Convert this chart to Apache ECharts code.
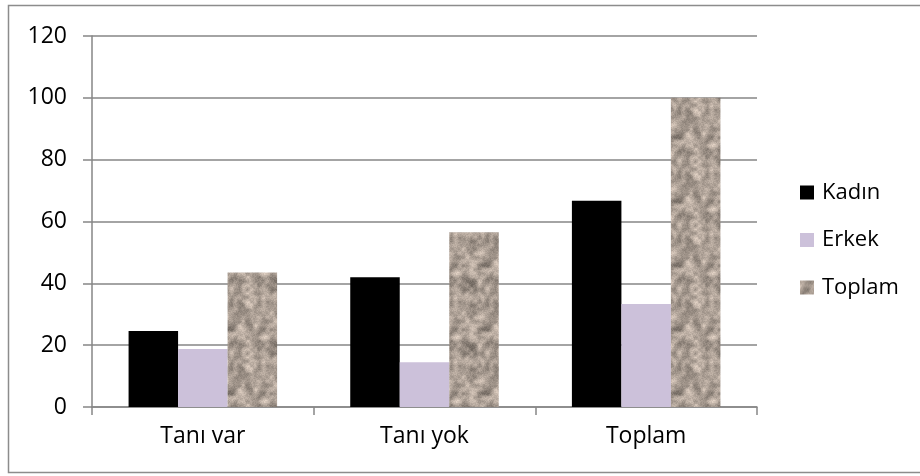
<!DOCTYPE html>
<html>
<head>
<meta charset="utf-8">
<script src="https://cdn.jsdelivr.net/npm/echarts@6/dist/echarts.min.js"></script>
<style>
  html, body { margin: 0; padding: 0; background: #fff; }
  #chart { width: 920px; height: 476px; }
</style>
</head>
<body>
<div id="chart"></div>
<script>
// Categories and series values
const categories = ['Tanı var', 'Tanı yok', 'Toplam'];
const kadin = [24.6, 42.0, 66.7];
const erkek = [18.8, 14.5, 33.3];
const toplam = [43.5, 56.5, 100];
const seriesNames = ['Kadın', 'Erkek', 'Toplam'];
const yTicks = [0, 20, 40, 60, 80, 100, 120];

// Granite-like texture for the "Toplam" bars (deterministic hash noise)
function graniteTexture(size) {
  const c = document.createElement('canvas');
  c.width = size; c.height = size;
  const ctx = c.getContext('2d');
  const img = ctx.createImageData(size, size);
  function hash(x, y) {
    let h = (x * 374761393 + y * 668265263) ^ 0x5bd1e995;
    h = (h ^ (h >>> 13)) * 1274126177;
    h = h ^ (h >>> 16);
    return ((h >>> 0) % 1000) / 1000;
  }
  function smooth(x, y, cell) {
    const gx = Math.floor(x / cell), gy = Math.floor(y / cell);
    const fx = (x % cell) / cell, fy = (y % cell) / cell;
    const n = size / cell;
    const a = hash(gx % n, gy % n), b = hash((gx + 1) % n, gy % n);
    const d = hash(gx % n, (gy + 1) % n), e = hash((gx + 1) % n, (gy + 1) % n);
    const sx = fx * fx * (3 - 2 * fx), sy = fy * fy * (3 - 2 * fy);
    return (a * (1 - sx) + b * sx) * (1 - sy) + (d * (1 - sx) + e * sx) * sy;
  }
  for (let y = 0; y < size; y++) {
    for (let x = 0; x < size; x++) {
      const v = 0.5 * smooth(x, y, 8) + 0.35 * smooth(x + 5, y + 3, 4) + 0.15 * hash(x + 11, y + 29);
      const t = (v - 0.5) * 2.6;
      const r = 163 + t * 62, g = 151 + t * 58, b = 141 + t * 55;
      const i = (y * size + x) * 4;
      img.data[i] = Math.max(0, Math.min(255, r));
      img.data[i + 1] = Math.max(0, Math.min(255, g));
      img.data[i + 2] = Math.max(0, Math.min(255, b));
      img.data[i + 3] = 255;
    }
  }
  ctx.putImageData(img, 0, 0);
  return c;
}

const granite = { image: graniteTexture(64), repeat: 'repeat' };
const textFont = '"Open Sans", "Noto Sans", sans-serif';

const chart = echarts.init(document.getElementById('chart'), null, { renderer: 'canvas' });
chart.setOption({
  animation: false,
  backgroundColor: '#ffffff',
  textStyle: { fontFamily: textFont, color: '#000' },
  graphic: [{
    type: 'rect',
    shape: { x: 8.5, y: 5.5, width: 1000, height: 467 },
    style: { fill: 'none', stroke: '#8c8c8c', lineWidth: 1.5 },
    silent: true
  }],
  grid: { left: 92, right: 163, top: 36, bottom: 69, containLabel: false },
  legend: {
    orient: 'vertical',
    left: 800,
    top: 181,
    padding: 0,
    itemWidth: 14,
    itemHeight: 14,
    itemGap: 24.5,
    icon: 'rect',
    textStyle: { fontSize: 22, lineHeight: 23, fontFamily: textFont, color: '#000', padding: [0, 0, 0, 3] },
    data: seriesNames
  },
  xAxis: {
    type: 'category',
    data: categories,
    axisLine: { lineStyle: { color: '#868686', width: 1.5 } },
    axisTick: { show: true, length: 8, lineStyle: { color: '#868686', width: 1.5 } },
    axisLabel: { fontSize: 23, color: '#000', margin: 18, fontFamily: textFont }
  },
  yAxis: {
    type: 'value',
    min: 0,
    max: 120,
    interval: 20,
    axisLine: { show: true, lineStyle: { color: '#868686', width: 1.5 } },
    axisTick: { show: true, length: 9, lineStyle: { color: '#868686', width: 1.5 } },
    splitLine: { lineStyle: { color: '#868686', width: 1.5 } },
    axisLabel: {
      fontSize: 23, color: '#000', margin: 25, fontFamily: textFont,
      formatter: v => (yTicks.includes(v) ? String(v) : '')
    }
  },
  series: [
    { name: seriesNames[0], type: 'bar', data: kadin, barGap: '0%', barCategoryGap: '33%', itemStyle: { color: '#000000' } },
    { name: seriesNames[1], type: 'bar', data: erkek, barGap: '0%', barCategoryGap: '33%', itemStyle: { color: '#ccc1da' } },
    { name: seriesNames[2], type: 'bar', data: toplam, barGap: '0%', barCategoryGap: '33%', itemStyle: { color: granite } }
  ]
});
</script>
</body>
</html>
